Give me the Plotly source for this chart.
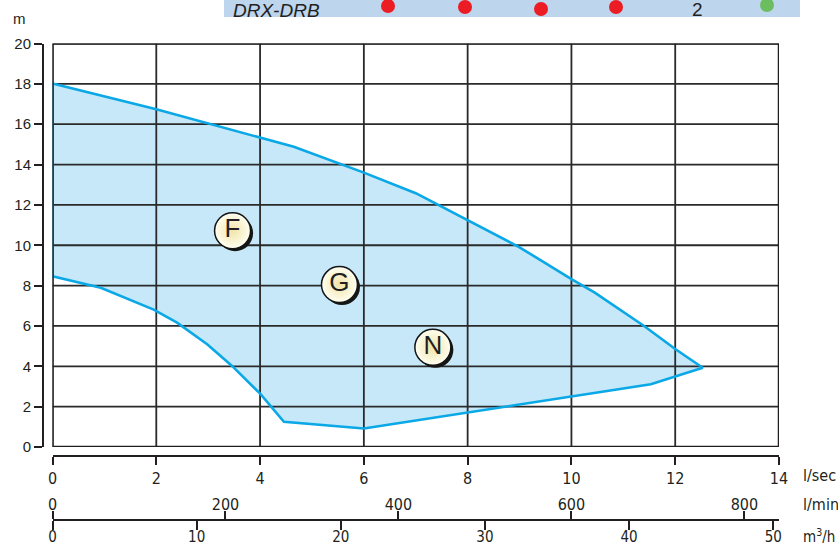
import plotly.graph_objects as go

W, H = 838, 547

# ---- data (flow in l/sec, head in m) ----
upper_q = [0, 2, 4.65, 6.0, 7.0, 8.0, 9.0, 10.0, 10.45, 11.4, 12.0, 12.53]
upper_h = [18.02, 16.74, 14.88, 13.6, 12.58, 11.26, 9.9, 8.32, 7.65, 6.0, 4.86, 3.93]
lower_q = [0, 0.93, 1.95, 2.4, 2.98, 3.46, 4.01, 4.46, 6.0, 11.53, 12.53]
lower_h = [8.46, 7.89, 6.81, 6.16, 5.09, 4.02, 2.62, 1.25, 0.92, 3.11, 3.93]

label_names = ["F", "G", "N"]
label_q = [3.47, 5.53, 7.33]
label_h = [10.72, 8.05, 4.94]

lsec_ticks = [0, 2, 4, 6, 8, 10, 12, 14]
lmin_ticks = [0, 200, 400, 600, 800]
m3h_ticks = [0, 10, 20, 30, 40, 50]
head_ticks = [0, 2, 4, 6, 8, 10, 12, 14, 16, 18, 20]

banner_dot_x = [388, 465, 541, 616]
banner_dot_y = [6, 7, 9, 7]

# ---- layout geometry (pixels) ----
PX_L, PX_R = 52.5, 779
PX_T, PX_B = 43.5, 447
def px(x): return x / W
def py(y): return (H - y) / H

Q_MAX, H_MAX = 14, 20
ppx = (PX_R - PX_L) / Q_MAX
ppy = (PX_B - PX_T) / H_MAX

INK = "#231f20"
GRID = "#2a2a2a"
LINE_BLUE = "#0aa8e6"
FILL_BLUE = "#c6e8f8"
NARROW = "Liberation Sans Narrow, DejaVu Sans Condensed, Liberation Sans, sans-serif"
SANS = "Liberation Sans, Arial, sans-serif"

fig = go.Figure()

# filled area
poly_q = upper_q + lower_q[::-1]
poly_h = upper_h + lower_h[::-1]
fig.add_trace(go.Scatter(x=poly_q, y=poly_h, fill="toself", fillcolor=FILL_BLUE,
                         mode="none", hoverinfo="skip", showlegend=False))

# grid lines (drawn above the fill)
gx, gy = [], []
for t in lsec_ticks:
    gx += [t, t, None]; gy += [0, H_MAX, None]
for t in head_ticks:
    gx += [0, Q_MAX, None]; gy += [t, t, None]
fig.add_trace(go.Scatter(x=gx, y=gy, mode="lines", line=dict(color=GRID, width=1.8),
                         hoverinfo="skip", showlegend=False))

# outline
fig.add_trace(go.Scatter(x=poly_q + [poly_q[0]], y=poly_h + [poly_h[0]], mode="lines",
                         line=dict(color=LINE_BLUE, width=2.6), hoverinfo="skip", showlegend=False))

# label badges: shadow + circle
sh_dx, sh_dy = 2.5 / ppx, 2.5 / ppy
fig.add_trace(go.Scatter(x=[q + sh_dx for q in label_q], y=[h - sh_dy for h in label_h],
                         mode="markers", marker=dict(size=36, color="#151515"),
                         hoverinfo="skip", showlegend=False))
fig.add_trace(go.Scatter(x=label_q, y=label_h, mode="markers+text", text=label_names,
                         textposition="middle center",
                         textfont=dict(family=SANS, size=26, color=INK),
                         marker=dict(size=36, color="#fffef2",
                                     gradient=dict(type="radial", color="#f1e4a6"),
                                     line=dict(color="#151515", width=1.5)),
                         hoverinfo="skip", showlegend=False))

# invisible anchors so the extra x axes are drawn
fig.add_trace(go.Scatter(x=[0], y=[-5], xaxis="x2", mode="markers", marker=dict(size=1, opacity=0),
                         showlegend=False, hoverinfo="skip"))
fig.add_trace(go.Scatter(x=[0], y=[-5], xaxis="x3", mode="markers", marker=dict(size=1, opacity=0),
                         showlegend=False, hoverinfo="skip"))

dom_x = [px(PX_L), px(PX_R)]
dom_y = [py(PX_B), py(PX_T)]

common_ax = dict(showgrid=False, zeroline=False, showline=True, linecolor=INK, linewidth=2,
                 ticks="outside", tickcolor=INK, tickwidth=2, fixedrange=True, automargin=False)

fig.update_layout(
    width=W, height=H, margin=dict(l=0, r=0, t=0, b=0, pad=0, autoexpand=False),
    paper_bgcolor="white", plot_bgcolor="white", showlegend=False,
    xaxis=dict(domain=dom_x, range=[0, Q_MAX], anchor="free", position=py(456),
               tickmode="array", tickvals=lsec_ticks, ticklen=8,
               tickfont=dict(family=NARROW, size=16, color=INK), **common_ax),
    xaxis2=dict(domain=dom_x, range=[0, Q_MAX * 60], overlaying="x", anchor="free",
                position=py(520), side="top", tickmode="array", tickvals=lmin_ticks, ticklen=8,
                ticklabelstandoff=-5,
                tickfont=dict(family=NARROW, size=16, color=INK), **common_ax),
    xaxis3=dict(domain=dom_x, range=[0, Q_MAX * 3.6], overlaying="x", anchor="free",
                position=py(520), side="bottom", tickmode="array", tickvals=m3h_ticks, ticklen=9,
                ticklabelstandoff=-6,
                tickfont=dict(family=NARROW, size=15, color=INK), **common_ax),
    yaxis=dict(domain=dom_y, range=[0, H_MAX], anchor="free", position=px(43),
               tickmode="array", tickvals=head_ticks, ticklen=8,
               tickfont=dict(family=SANS, size=15, color=INK), **common_ax),
)

# plot frame
fig.add_shape(type="rect", xref="x", yref="y", x0=0, x1=Q_MAX, y0=0, y1=H_MAX,
              line=dict(color=INK, width=2.5), layer="above")

# unit labels
for txt, y in [("l/sec", 475), ("l/min", 504), ("m<sup>3</sup>/h", 536)]:
    fig.add_annotation(x=px(801), y=py(y), xref="paper", yref="paper", text=txt,
                       showarrow=False, xanchor="left", yanchor="middle",
                       font=dict(family=NARROW, size=16 if y < 530 else 15, color=INK))
fig.add_annotation(x=px(19), y=py(18), xref="paper", yref="paper", text="m",
                   showarrow=False, xanchor="center", yanchor="middle",
                   font=dict(family=SANS, size=15, color=INK))

# top banner
fig.add_shape(type="rect", xref="paper", yref="paper", x0=px(224), x1=px(800),
              y0=py(17), y1=py(-2), line=dict(width=0), fillcolor="#bed5ee", layer="below")
fig.add_annotation(x=px(231), y=py(10.5), xref="paper", yref="paper",
                   text="<i>DRX-DRB</i>", showarrow=False, xanchor="left", yanchor="middle",
                   font=dict(family=SANS, size=19, color=INK))
fig.add_annotation(x=px(697), y=py(10), xref="paper", yref="paper", text="2",
                   showarrow=False, xanchor="center", yanchor="middle",
                   font=dict(family=SANS, size=19, color=INK))
r = 7
for cx, cy in zip(banner_dot_x, banner_dot_y):
    fig.add_shape(type="circle", xref="paper", yref="paper",
                  x0=px(cx - r), x1=px(cx + r), y0=py(cy + r), y1=py(cy - r),
                  line=dict(width=0), fillcolor="#ec1c24")
fig.add_shape(type="circle", xref="paper", yref="paper",
              x0=px(767 - r), x1=px(767 + r), y0=py(5 + r), y1=py(5 - r),
              line=dict(width=0), fillcolor="#6cbd5f")

fig.write_html("out.html", config={"displayModeBar": False, "staticPlot": True},
               post_script="document.body.style.margin='0';document.body.style.overflow='hidden';")
